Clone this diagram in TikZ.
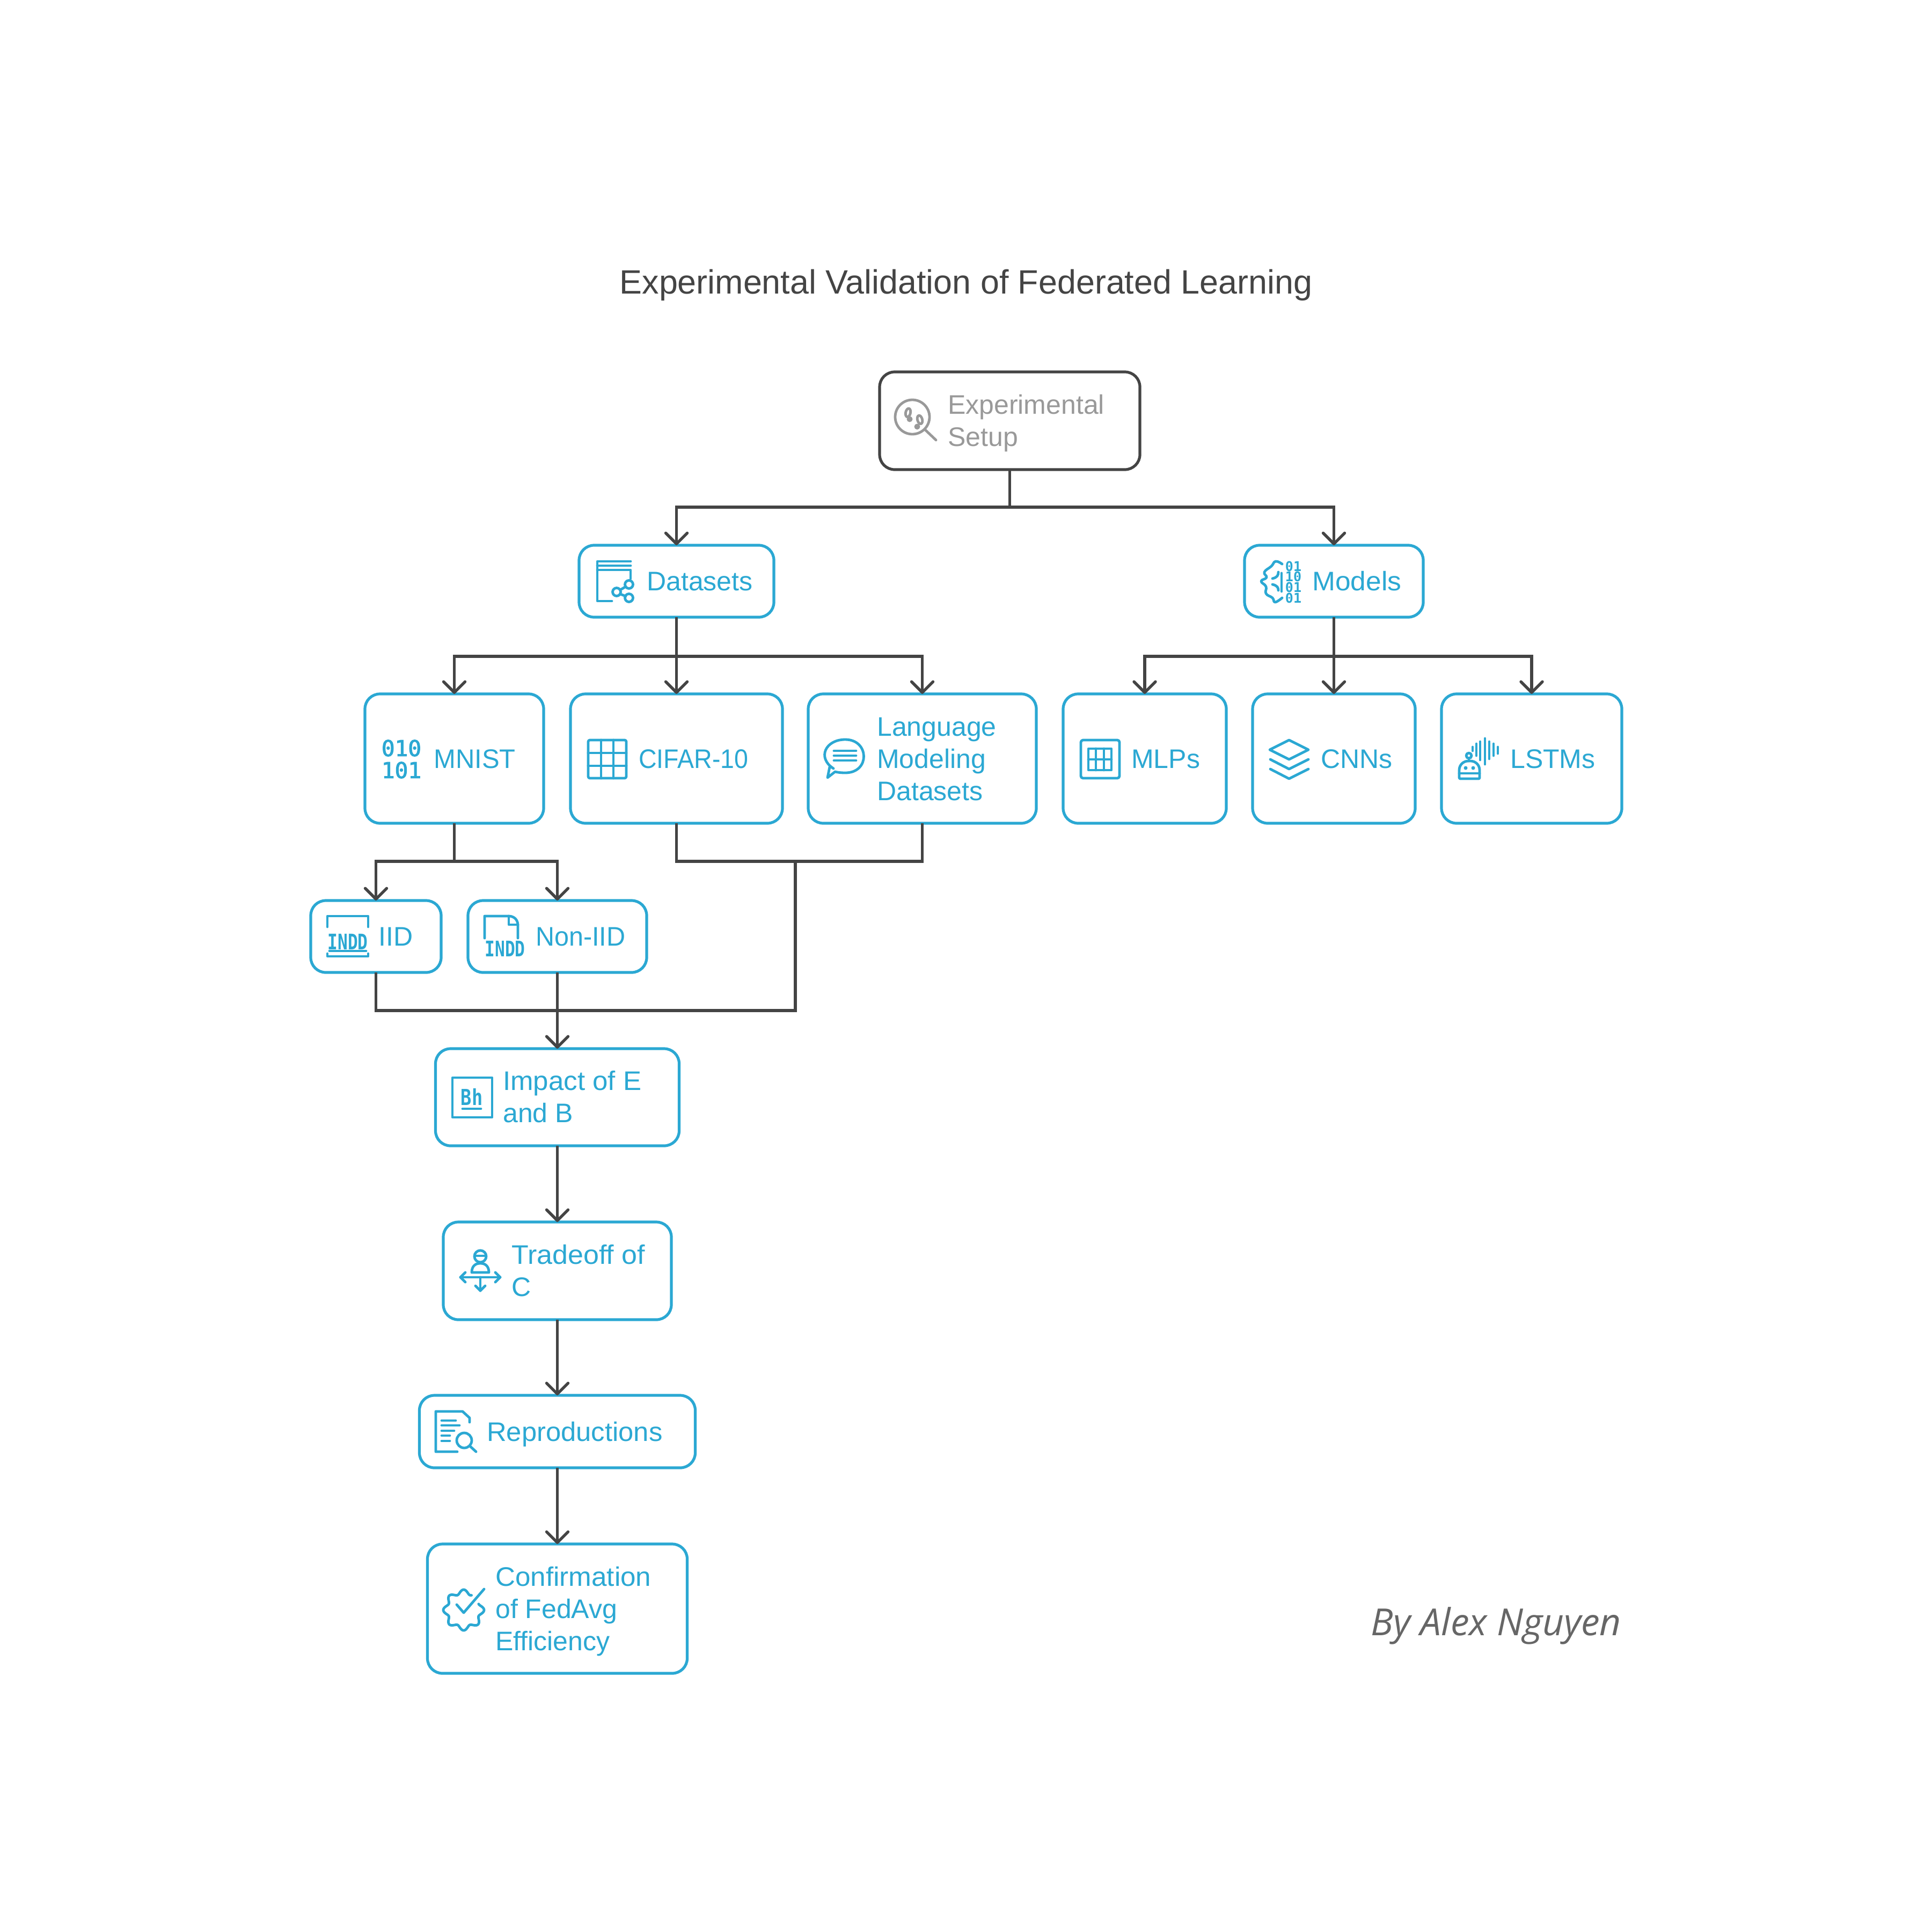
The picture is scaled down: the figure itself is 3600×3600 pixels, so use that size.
\documentclass[tikz,border=0pt]{standalone}
\usepackage{fontspec}
\usetikzlibrary{arrows.meta}
\setmainfont{Liberation Sans}
\newfontfamily\authorf{Open Sans}
\newfontfamily\glyphf{DejaVu Sans Mono}
\newfontfamily\glyphm[FakeBold=2.5]{DejaVu Sans Mono}
\definecolor{cb}{HTML}{2BA8D3}
\definecolor{cl}{HTML}{444444}
\definecolor{cg}{HTML}{999999}
\newcommand\rowstrut{\rule[-13pt]{0pt}{60pt}}
\newcommand\fitw[2]{{\addfontfeature{FakeStretch=#1}#2}}
\tikzset{
  box/.style={draw=cb,line width=5.2pt,rounded corners=28pt,fill=white,inner sep=0pt,outer sep=0pt},
  rootbox/.style={box,draw=cl},
  lbl/.style={text=cb,anchor=west,align=left,inner sep=0pt,font=\fontsize{50}{60}\selectfont},
  rootlbl/.style={lbl,text=cg},
  wire/.style={draw=cl,line width=5.4pt},
  arrow/.style={wire,-{Straight Barb[length=20pt,width=40pt,line cap=round,line join=round]}},
  ic/.style={draw=cb,line width=4.8pt,line cap=round,line join=round},
  icg/.style={draw=cg,line width=4.8pt,line cap=round,line join=round},
  glyph/.style={text=cb,inner sep=0pt}
}
\begin{document}
\begin{tikzpicture}[x=1pt,y=-1pt]
\useasboundingbox (0,0) rectangle (3600,3600);
\fill[white] (0,0) rectangle (3600,3600);

% boxes
\node[rootbox,minimum width=485pt,minimum height=182pt] (exp) at (1881.5,784) {};
\node[box,minimum width=363pt,minimum height=134pt] (ds) at (1260.5,1083) {};
\node[box,minimum width=333pt,minimum height=134pt] (mod) at (2485.5,1083) {};
\node[box,minimum width=333pt,minimum height=241pt] (mnist) at (846.5,1413.5) {};
\node[box,minimum width=395pt,minimum height=241pt] (cifar) at (1260.5,1413.5) {};
\node[box,minimum width=425pt,minimum height=241pt] (lang) at (1718.5,1413.5) {};
\node[box,minimum width=304pt,minimum height=241pt] (mlp) at (2133,1413.5) {};
\node[box,minimum width=303pt,minimum height=241pt] (cnn) at (2485.5,1413.5) {};
\node[box,minimum width=336pt,minimum height=241pt] (lstm) at (2854,1413.5) {};
\node[box,minimum width=243pt,minimum height=134pt] (iid) at (700.5,1745) {};
\node[box,minimum width=333pt,minimum height=134pt] (non) at (1038.5,1745) {};
\node[box,minimum width=454pt,minimum height=181pt] (imp) at (1038.5,2044.5) {};
\node[box,minimum width=425pt,minimum height=182pt] (tra) at (1038.5,2368) {};
\node[box,minimum width=514pt,minimum height=135pt] (rep) at (1038.5,2667.5) {};
\node[box,minimum width=484pt,minimum height=241pt] (con) at (1038.5,2997.5) {};

% connectors
\coordinate (m1) at (1482,1605);
\coordinate (m2) at (1482,1883);
\coordinate (m3) at (1038.5,1883);
\draw[arrow] (exp.south) -- ++(0,70) -| (ds.north);
\draw[arrow] (exp.south) -- ++(0,70) -| (mod.north);
\draw[arrow] (ds.south) -- ++(0,73) -| (mnist.north);
\draw[arrow] (ds.south) -- (cifar.north);
\draw[arrow] (ds.south) -- ++(0,73) -| (lang.north);
\draw[arrow] (mod.south) -- ++(0,73) -| (mlp.north);
\draw[arrow] (mod.south) -- (cnn.north);
\draw[arrow] (mod.south) -- ++(0,73) -| (lstm.north);
\draw[arrow] (mnist.south) -- ++(0,71) -| (iid.north);
\draw[arrow] (mnist.south) -- ++(0,71) -| (non.north);
\draw[wire] (cifar.south) |- (m1) -| (lang.south);
\draw[wire] (m1) -- (m2) -- (m3);
\draw[wire] (iid.south) |- (m3);
\draw[arrow] (non.south) -- (imp.north);
\draw[arrow] (imp.south) -- (tra.north);
\draw[arrow] (tra.south) -- (rep.north);
\draw[arrow] (rep.south) -- (con.north);

% labels
\node[text=cl,inner sep=0pt,font=\fontsize{62.8}{72}\selectfont] (title) at (1800,531) {Experimental Validation of Federated Learning};
\node[rootlbl] (texp) at (1766,784) {\rowstrut Experimental\\\rowstrut Setup};
\node[lbl] (tds) at (1205,1083) {\rowstrut Datasets};
\node[lbl] (tmod) at (2445,1083) {\rowstrut \fitw{1.03}{Models}};
\node[lbl] (tmnist) at (808,1414) {\rowstrut \fitw{0.98}{MNIST}};
\node[lbl] (tcifar) at (1190,1414) {\rowstrut \fitw{0.93}{CIFAR-10}};
\node[lbl] (tlang) at (1634,1414) {\rowstrut Language\\\rowstrut Modeling\\\rowstrut Datasets};
\node[lbl] (tmlp) at (2108,1414) {\rowstrut MLPs};
\node[lbl] (tcnn) at (2461,1414) {\rowstrut CNNs};
\node[lbl] (tlstm) at (2814,1414) {\rowstrut LSTMs};
\node[lbl] (tiid) at (705,1745) {\rowstrut IID};
\node[lbl] (tnon) at (998,1745) {\rowstrut \fitw{0.97}{Non-IID}};
\node[lbl] (timp) at (937,2044) {\rowstrut \fitw{1.02}{Impact of E}\\\rowstrut and B};
\node[lbl] (ttra) at (953,2368) {\rowstrut \fitw{1.04}{Tradeoff of}\\\rowstrut C};
\node[lbl] (trep) at (907,2668) {\rowstrut \fitw{1.015}{Reproductions}};
\node[lbl] (tcon) at (923,2998) {\rowstrut \fitw{1.024}{Confirmation}\\\rowstrut of FedAvg\\\rowstrut Efficiency};
\node[anchor=east,inner sep=0pt,text=black!60,font=\authorf\itshape\fontsize{69.5}{80}\selectfont] (auth) at (3021,3029) {By Alex Nguyen};

% icon: experimental setup
\draw[icg] (1700,777) circle (32);
\draw[icg] (1723,800) -- (1744,820);
\draw[icg,rotate around={-12:(1692,769)}] (1692,769) ellipse (4.5 and 8);
\fill[cg] (1695,781) circle (5.5);
\draw[icg,rotate around={15:(1714,782)}] (1714,782) ellipse (4.5 and 8);
\fill[cg] (1709,795) circle (5.5);

% icon: datasets
\draw[ic] (1175,1046) -- (1113,1046) -- (1113,1120) -- (1140,1120);
\draw[ic] (1113,1054) -- (1175,1054);
\draw[ic] (1113,1062) -- (1175,1062) -- (1175,1078);
\draw[ic] (1172,1089) circle (7.5);
\draw[ic] (1149,1103) circle (7.5);
\draw[ic] (1172,1114) circle (7.5);
\draw[ic] (1156,1099) -- (1166,1093);
\draw[ic] (1156,1107) -- (1166,1111);

% icon: models
\draw[ic] plot[smooth,tension=0.8] coordinates {(2389,1051) (2377,1046) (2369,1055) (2356,1066) (2360,1076) (2350,1083) (2359,1093) (2359,1106) (2371,1114) (2376,1122) (2389,1114)};
\draw[ic] (2371,1078) .. controls (2380,1076) and (2382,1072) .. (2382,1066);
\draw[ic] (2371,1089) .. controls (2380,1091) and (2382,1095) .. (2382,1100);
\draw[ic] (2388,1068) -- (2388,1102);
\node[glyph,font=\glyphf\bfseries\fontsize{25}{25}\selectfont] (g1) at (2410,1055) {01};
\node[glyph,font=\glyphf\bfseries\fontsize{25}{25}\selectfont] (g2) at (2410,1074) {10};
\node[glyph,font=\glyphf\bfseries\fontsize{25}{25}\selectfont] (g3) at (2410,1094) {01};
\node[glyph,font=\glyphf\bfseries\fontsize{25}{25}\selectfont] (g4) at (2410,1114) {01};

% icon: mnist
\node[glyph,font=\glyphm\fontsize{41}{41}\selectfont] (g5) at (748,1394) {010};
\node[glyph,font=\glyphm\fontsize{41}{41}\selectfont] (g6) at (748,1435) {101};

% icon: cifar
\draw[ic,rounded corners=3pt] (1096,1379) rectangle (1167,1450);
\draw[ic] (1120,1379) -- (1120,1450) (1143,1379) -- (1143,1450) (1096,1403) -- (1167,1403) (1096,1427) -- (1167,1427);

% icon: language
\draw[ic] (1553,1432) .. controls (1522,1412) and (1538,1378) .. (1575,1378) .. controls (1620,1378) and (1622,1440) .. (1575,1440) .. controls (1566,1440) and (1560,1439) .. (1556,1438) -- (1542,1449) -- (1546,1429);
\draw[ic] (1554,1399) -- (1595,1399) (1554,1408) -- (1595,1408) (1554,1417) -- (1595,1417);

% icon: mlps
\draw[ic,rounded corners=4pt] (2014,1379) rectangle (2086,1450);
\draw[ic] (2028,1395) rectangle (2071,1435);
\draw[ic] (2028,1415) -- (2071,1415) (2042,1395) -- (2042,1435) (2057,1395) -- (2057,1435);

% icon: cnns
\draw[ic] (2402,1379) -- (2438,1397) -- (2402,1415) -- (2366,1397) -- cycle;
\draw[ic] (2367,1415) -- (2402,1433) -- (2438,1415);
\draw[ic] (2367,1433) -- (2402,1451) -- (2438,1433);

% icon: lstms
\draw[ic,rounded corners=2pt] (2719,1451) -- (2719,1437) .. controls (2719,1425) and (2727,1418) .. (2738,1418) .. controls (2749,1418) and (2757,1425) .. (2757,1437) -- (2757,1451) -- cycle;
\draw[ic] (2719,1441) -- (2757,1441);
\fill[cb] (2731,1431) circle (3.5) (2745,1431) circle (3.5);
\draw[ic] (2737,1408) circle (5);
\draw[ic] (2737,1413) -- (2737,1418);
\draw[ic] (2744,1392) -- (2744,1399) (2751,1386) -- (2751,1408) (2758,1382) -- (2758,1416) (2767,1376) -- (2767,1424) (2775,1382) -- (2775,1414) (2783,1386) -- (2783,1408) (2791,1392) -- (2791,1404);

% icon: iid
\draw[ic] (610,1727) -- (610,1707) -- (686,1707) -- (686,1727);
\draw[ic] (610,1777) -- (610,1782) -- (686,1782) -- (686,1777);
\node[glyph,font=\glyphf\bfseries\fontsize{40}{40}\selectfont] (g7) at (648,1755) {\fitw{0.78}{INDD}};
\draw[ic] (614,1772) -- (682,1772);

% icon: non-iid
\draw[ic] (903,1748) -- (903,1707) -- (948,1707) .. controls (958,1707) and (965,1714) .. (965,1724) -- (965,1748);
\draw[ic] (948,1707) -- (948,1723) -- (965,1723);
\node[glyph,font=\glyphf\bfseries\fontsize{40}{40}\selectfont] (g8) at (941,1768) {\fitw{0.78}{INDD}};

% icon: bh
\draw[ic] (843,2008) rectangle (917,2082);
\node[glyph,font=\glyphf\bfseries\fontsize{41}{41}\selectfont] (g9) at (879,2044) {\fitw{0.82}{Bh}};
\draw[ic] (862,2066) -- (896,2066);

% icon: tradeoff
\draw[ic] (895,2341) circle (11);
\draw[ic] (885,2340) -- (905,2340);
\draw[ic] (879,2371) .. controls (879,2360) and (885,2354) .. (895,2354) .. controls (905,2354) and (911,2360) .. (911,2371) -- cycle;
\draw[ic] (858,2380) -- (932,2380);
\draw[ic] (867,2371) -- (858,2380) -- (867,2389);
\draw[ic] (923,2371) -- (932,2380) -- (923,2389);
\draw[ic] (895,2380) -- (895,2405);
\draw[ic] (886,2396) -- (895,2405) -- (904,2396);

% icon: reproductions
\draw[ic] (875,2650) -- (875,2642) -- (862,2630) -- (812,2630) -- (812,2705) -- (852,2705);
\draw[ic] (823,2647) -- (849,2647) (823,2656) -- (856,2656) (823,2666) -- (846,2666) (823,2675) -- (838,2675) (823,2685) -- (838,2685);
\draw[ic] (865,2684) circle (14);
\draw[ic] (875,2694) -- (887,2705);

% icon: confirmation
\draw[ic] plot[smooth,samples=120,domain=62:382] ({864+(34+4*cos(8*\x))*cos(\x)},{3000-(34+4*cos(8*\x))*sin(\x)});
\draw[ic] (851,2990) -- (864,3005) -- (902,2961);

\end{tikzpicture}
\end{document}
